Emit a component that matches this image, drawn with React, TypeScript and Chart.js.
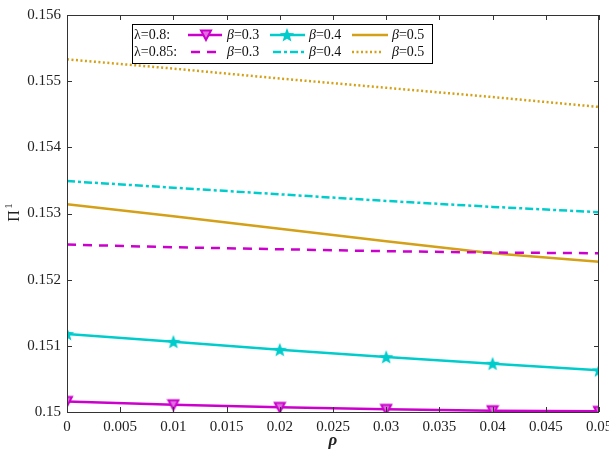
import React, { useEffect, useRef } from "react";
import { Chart, registerables } from "chart.js";

Chart.register(...registerables);

const rho = [0, 0.01, 0.02, 0.03, 0.04, 0.05];
const l08b03 = [0.15016, 0.15011, 0.15007, 0.15004, 0.15002, 0.15001];
const l08b04 = [0.15118, 0.15106, 0.15094, 0.15083, 0.15073, 0.15063];
const l08b05 = [0.15314, 0.15296, 0.15277, 0.15258, 0.1524, 0.15227];
const l085b03 = [0.15253, 0.15249, 0.15246, 0.15243, 0.15241, 0.1524];
const l085b04 = [0.15349, 0.15339, 0.15329, 0.15319, 0.1531, 0.15302];
const l085b05 = [0.15533, 0.15519, 0.15504, 0.1549, 0.15476, 0.15461];
const xTicks = [0, 0.005, 0.01, 0.015, 0.02, 0.025, 0.03, 0.035, 0.04, 0.045, 0.05];
const yTicks = [0.15, 0.151, 0.152, 0.153, 0.154, 0.155, 0.156];

const MAG = "#cc00cc";
const CYN = "#00cccc";
const GLD = "#d4a017";
const FONT = "'Liberation Serif', 'DejaVu Serif', serif";

function makeTriangle(): HTMLCanvasElement {
  const c = document.createElement("canvas");
  c.width = 14; c.height = 14;
  const g = c.getContext("2d")!;
  g.beginPath();
  g.moveTo(2, 2.5); g.lineTo(12, 2.5); g.lineTo(7, 12); g.closePath();
  g.fillStyle = "#e070e0"; g.fill();
  g.lineWidth = 2; g.strokeStyle = MAG; g.stroke();
  return c;
}
function makeStar(): HTMLCanvasElement {
  const c = document.createElement("canvas");
  c.width = 16; c.height = 16;
  const g = c.getContext("2d")!;
  g.beginPath();
  for (let i = 0; i < 10; i++) {
    const r = i % 2 === 0 ? 7.5 : 3.2;
    const a = -Math.PI / 2 + (i * Math.PI) / 5;
    const x = 8 + r * Math.cos(a), y = 8.5 + r * Math.sin(a);
    if (i === 0) g.moveTo(x, y); else g.lineTo(x, y);
  }
  g.closePath();
  g.fillStyle = CYN; g.fill();
  return c;
}

export default function App() {
  const ref = useRef<HTMLCanvasElement>(null);
  useEffect(() => {
    document.body.style.margin = "0";
    const tri = makeTriangle();
    const star = makeStar();
    const frame = {
      id: "frame",
      afterDraw(chart: any) {
        const { ctx, chartArea: a, scales } = chart;
        ctx.save();
        ctx.strokeStyle = "#333";
        ctx.lineWidth = 1;
        ctx.strokeRect(a.left + 0.5, a.top + 0.5, a.right - a.left - 1, a.bottom - a.top);
        ctx.beginPath();
        for (const v of xTicks) {
          const x = Math.round(scales.x.getPixelForValue(v)) + 0.5;
          ctx.moveTo(x, a.bottom); ctx.lineTo(x, a.bottom - 5);
          ctx.moveTo(x, a.top); ctx.lineTo(x, a.top + 5);
        }
        for (const v of yTicks) {
          const y = Math.round(scales.y.getPixelForValue(v)) + 0.5;
          ctx.moveTo(a.left, y); ctx.lineTo(a.left + 5, y);
          ctx.moveTo(a.right, y); ctx.lineTo(a.right - 5, y);
        }
        ctx.stroke();
        // axis titles
        ctx.fillStyle = "#222";
        ctx.font = `bold italic 17px ${FONT}`;
        ctx.textAlign = "center";
        ctx.textBaseline = "middle";
        ctx.fillText("ρ", (a.left + a.right) / 2, 441);
        ctx.save();
        ctx.translate(15, 213);
        ctx.rotate(-Math.PI / 2);
        ctx.font = `16px ${FONT}`;
        ctx.textAlign = "center";
        ctx.fillText("Π", -3, 0);
        ctx.font = `11px ${FONT}`;
        ctx.fillText("1", 7, -6);
        ctx.restore();
        // legend
        ctx.fillStyle = "#fff";
        ctx.fillRect(132, 24, 300, 39);
        ctx.strokeStyle = "#000";
        ctx.strokeRect(132.5, 24.5, 300, 39);
        const rows = [35, 52];
        ctx.textAlign = "left";
        ctx.fillStyle = "#111";
        ctx.font = `14px ${FONT}`;
        ctx.fillText("λ=0.8:", 134, rows[0]);
        ctx.fillText("λ=0.85:", 134, rows[1]);
        const seg = (x1: number, x2: number, y: number, col: string, dash: number[]) => {
          ctx.beginPath();
          ctx.setLineDash(dash);
          ctx.strokeStyle = col;
          ctx.lineWidth = 2.5;
          ctx.moveTo(x1, y); ctx.lineTo(x2, y);
          ctx.stroke();
          ctx.setLineDash([]);
        };
        seg(188, 222, rows[0], MAG, []);
        ctx.drawImage(tri, 206 - 7, rows[0] - 7);
        seg(270, 305, rows[0], CYN, []);
        ctx.drawImage(star, 287 - 8, rows[0] - 8);
        seg(352, 388, rows[0], GLD, []);
        seg(191, 219, rows[1], MAG, [9, 7]);
        seg(273, 305, rows[1], CYN, [8, 3, 3, 3]);
        seg(352, 382, rows[1], GLD, [2, 2.5]);
        const beta = (x: number, y: number, t: string) => {
          ctx.fillStyle = "#111";
          ctx.font = `italic 14px ${FONT}`;
          ctx.fillText("β", x, y);
          const w = ctx.measureText("β").width;
          ctx.font = `14px ${FONT}`;
          ctx.fillText(t, x + w, y);
        };
        beta(227, rows[0], "=0.3");
        beta(309, rows[0], "=0.4");
        beta(392, rows[0], "=0.5");
        beta(227, rows[1], "=0.3");
        beta(309, rows[1], "=0.4");
        beta(392, rows[1], "=0.5");
        ctx.restore();
      },
    };
    const mk = (d: number[], col: string, dash: number[], pt: any) => ({
      data: rho.map((x, i) => ({ x, y: d[i] })),
      borderColor: col,
      backgroundColor: col,
      borderWidth: 2.5,
      borderDash: dash,
      pointStyle: pt || false,
      pointRadius: pt ? 7 : 0,
      tension: 0,
    });
    const chart = new Chart(ref.current!, {
      type: "line",
      data: {
        datasets: [
          mk(l085b05, GLD, [2, 2.5], null),
          mk(l085b04, CYN, [8, 3, 3, 3], null),
          mk(l085b03, MAG, [9, 7], null),
          mk(l08b05, GLD, [], null),
          mk(l08b04, CYN, [], star),
          mk(l08b03, MAG, [], tri),
        ] as any,
      },
      options: {
        animation: false,
        responsive: false,
        layout: { padding: { top: 15, right: 10, left: 0, bottom: 0 } },
        plugins: { legend: { display: false }, tooltip: { enabled: false } },
        scales: {
          x: {
            type: "linear",
            min: 0,
            max: 0.05,
            afterBuildTicks: (s: any) => { s.ticks = xTicks.map((v) => ({ value: v })); },
            afterFit: (s: any) => { s.height = 42; s.paddingLeft = 0; s.paddingRight = 0; },
            grid: { display: false, drawTicks: false },
            border: { display: false },
            ticks: {
              padding: 6,
              maxRotation: 0,
              autoSkip: false,
              color: "#222",
              font: { family: FONT, size: 15 },
              callback: (v: any) => String(Number(Number(v).toFixed(3))),
            },
          },
          y: {
            type: "linear",
            min: 0.15,
            max: 0.156,
            afterBuildTicks: (s: any) => { s.ticks = yTicks.map((v) => ({ value: v })); },
            afterFit: (s: any) => { s.width = 67; s.paddingTop = 0; s.paddingBottom = 0; },
            grid: { display: false, drawTicks: false },
            border: { display: false },
            ticks: {
              padding: 6,
              color: "#222",
              font: { family: FONT, size: 15 },
              callback: (v: any) => String(Number(Number(v).toFixed(3))),
            },
          },
        },
      } as any,
      plugins: [frame],
    });
    return () => chart.destroy();
  }, []);
  return (
    <div style={{ width: 609, height: 454 }}>
      <canvas ref={ref} width={609} height={454} style={{ display: "block" }} />
    </div>
  );
}
